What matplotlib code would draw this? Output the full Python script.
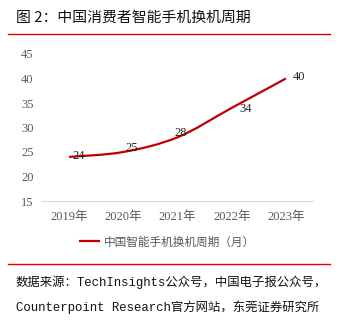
import numpy as np
import matplotlib
matplotlib.use("Agg")
import matplotlib.pyplot as plt
from matplotlib.path import Path
from matplotlib.patches import PathPatch
from matplotlib.lines import Line2D

years = ['2019年', '2020年', '2021年', '2022年', '2023年']
cycle = [24, 25, 28, 34, 40]
yticks = [15, 20, 25, 30, 35, 40, 45]
# label offsets in pixels (right, up), as placed in the original
label_off = [(10, 1), (8, 4), (3, 4), (14, -1), (13, 1)]

serif = ['Liberation Serif', 'Noto Sans CJK SC']
cjk = ['Noto Sans CJK SC', 'DejaVu Sans']
mono = ['Liberation Mono', 'Noto Sans CJK SC']
red = '#C00000'
grey = '#595959'

fig = plt.figure(figsize=(3.53, 3.24), dpi=100)
fig.patch.set_facecolor('white')

# title + red rules
fig.text(16 / 353, 1 - 18 / 324, '图 2：中国消费者智能手机换机周期', family=cjk,
         fontsize=10.7, weight='medium', va='center', ha='left', color='#111111')
fig.add_artist(Line2D([8 / 353, 330 / 353], [1 - 34 / 324] * 2, color='#E00000', lw=1.0))
fig.add_artist(Line2D([8 / 353, 330 / 353], [1 - 264 / 324] * 2, color='#E00000', lw=1.0))

ax = fig.add_axes([42 / 353, 123 / 324, 271 / 353, 147 / 324])
x = np.arange(len(years))
y = np.array(cycle, dtype=float)

# smoothed line (Catmull-Rom style bezier like Excel)
verts = [(x[0], y[0])]
codes = [Path.MOVETO]
for i in range(len(x) - 1):
    p0 = (x[i - 1], y[i - 1]) if i > 0 else (x[i], y[i])
    p1 = (x[i], y[i])
    p2 = (x[i + 1], y[i + 1])
    p3 = (x[i + 2], y[i + 2]) if i + 2 < len(x) else (x[i + 1], y[i + 1])
    c1 = (p1[0] + (p2[0] - p0[0]) / 6, p1[1] + (p2[1] - p0[1]) / 6)
    c2 = (p2[0] - (p3[0] - p1[0]) / 6, p2[1] - (p3[1] - p1[1]) / 6)
    verts += [c1, c2, p2]
    codes += [Path.CURVE4] * 3
ax.add_patch(PathPatch(Path(verts, codes), facecolor='none', edgecolor=red, lw=1.6,
                       capstyle='butt'))
ax.plot([], [], color=red, lw=1.6, label='中国智能手机换机周期（月）')

for xi, yi, (dx, dy) in zip(x, cycle, label_off):
    ax.annotate(str(yi), (xi, yi), xytext=(dx * 0.72, dy * 0.72), textcoords='offset points',
                ha='center', va='center', fontsize=9, family=serif, color='#222222')

ax.set_xlim(-0.5, len(years) - 0.5)
ax.set_ylim(15, 45)
ax.set_yticks(yticks)
ax.set_xticks(x)
ax.set_xticklabels(years)
for s in ['top', 'right', 'left']:
    ax.spines[s].set_visible(False)
ax.spines['bottom'].set_color('#D9D9D9')
ax.tick_params(length=0, labelsize=9, colors=grey, pad=7)
ax.tick_params(axis='y', pad=6)
for lab in ax.get_xticklabels() + ax.get_yticklabels():
    lab.set_family(serif)

leg = fig.legend(loc='center', bbox_to_anchor=(0.475, 1 - 242 / 324), frameon=False,
                 prop={'family': cjk, 'size': 8.4}, handlelength=1.6, handletextpad=0.5)
for t in leg.get_texts():
    t.set_color(grey)

fig.text(16 / 353, 1 - 282 / 324, '数据来源：TechInsights公众号，中国电子报公众号，', family=mono,
         fontsize=8.9, va='center', ha='left', color='#111111', weight='medium')
fig.text(16 / 353, 1 - 307 / 324, 'Counterpoint Research官方网站，东莞证券研究所', family=mono,
         fontsize=8.9, va='center', ha='left', color='#111111', weight='medium')

fig.savefig('out.png', dpi=100)
